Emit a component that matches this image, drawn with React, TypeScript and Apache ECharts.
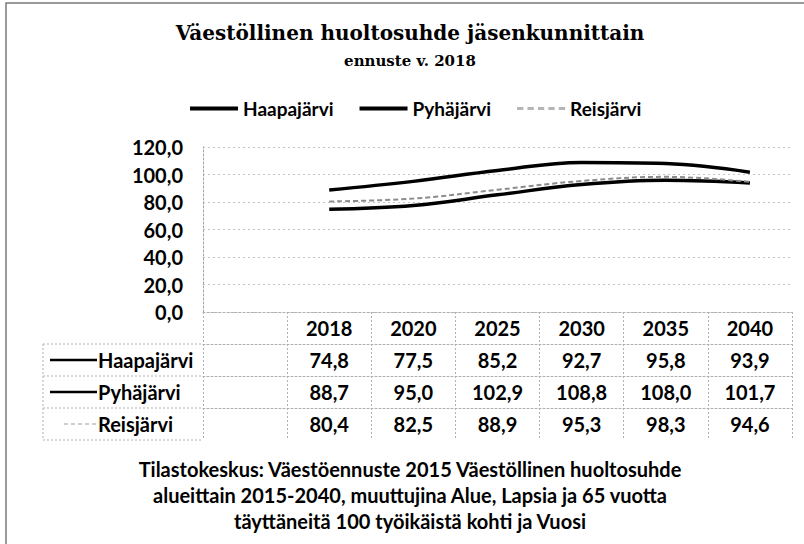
import React, { useEffect, useRef } from "react";
import * as echarts from "echarts";

const titleText = "Väestöllinen huoltosuhde jäsenkunnittain";
const subtitleText = "ennuste v. 2018";
const years = ["2018", "2020", "2025", "2030", "2035", "2040"];
const seriesNames = ["Haapajärvi", "Pyhäjärvi", "Reisjärvi"];
const haapajarvi = [74.8, 77.5, 85.2, 92.7, 95.8, 93.9];
const pyhajarvi = [88.7, 95.0, 102.9, 108.8, 108.0, 101.7];
const reisjarvi = [80.4, 82.5, 88.9, 95.3, 98.3, 94.6];
const yMin = 0;
const yMax = 120;
const yStep = 20;
const sourceLines = [
  "Tilastokeskus: Väestöennuste 2015 Väestöllinen huoltosuhde",
  "alueittain 2015-2040, muuttujina Alue, Lapsia ja 65 vuotta",
  "täyttäneitä 100 työikäistä kohti ja Vuosi",
];

const seriesValues = [haapajarvi, pyhajarvi, reisjarvi];
const lineStyles = [
  { color: "#000000", width: 3.5, type: "solid" as any },
  { color: "#000000", width: 3.5, type: "solid" as any },
  { color: "#8c8c8c", width: 2, type: [5, 3] as any },
];

const FONT = "Lato";
const CENTER_X = 410;
const GRID_LEFT = 203;
const GRID_RIGHT = 792;
const AXIS_Y = 312;
const ROW_H = 32;
const KEY_LEFT = 43;
const W = 804;
const H = 544;

const fmt = (v: number) => v.toFixed(1).replace(".", ",");
const categories = ["", ...years];
const dotted = { color: "#b0b0b0", width: 1, type: [2, 2] as any };

export default function App() {
  const ref = useRef<HTMLDivElement>(null);
  useEffect(() => {
    if (!ref.current) return;
    const chart = echarts.init(ref.current, undefined, { renderer: "svg" });

    const labelStyle = {
      interval: 0,
      margin: 6,
      color: "#000",
      fontFamily: FONT,
      fontWeight: "bold",
      fontSize: 20,
    };

    const rowAxes = seriesValues.map((vals, i) => ({
      type: "category",
      gridIndex: 0,
      position: "bottom",
      offset: ROW_H * (i + 1),
      data: ["", ...vals.map(fmt)],
      boundaryGap: true,
      axisLine: { show: true, lineStyle: dotted },
      axisTick: { show: false },
      axisLabel: labelStyle,
      splitLine: { show: false },
    }));

    const tableGraphics: any[] = [];
    for (let i = 1; i <= 4; i++) {
      const y = AXIS_Y + ROW_H * i;
      tableGraphics.push({
        type: "line",
        shape: { x1: KEY_LEFT, y1: y, x2: GRID_LEFT, y2: y },
        style: { stroke: dotted.color, lineWidth: 1, lineDash: [2, 2] },
      });
    }
    tableGraphics.push({
      type: "line",
      shape: { x1: KEY_LEFT, y1: AXIS_Y + ROW_H, x2: KEY_LEFT, y2: AXIS_Y + ROW_H * 4 },
      style: { stroke: dotted.color, lineWidth: 1, lineDash: [2, 2] },
    });
    seriesNames.forEach((name, i) => {
      const cy = AXIS_Y + ROW_H * (i + 1) + ROW_H / 2;
      tableGraphics.push({
        type: "line",
        shape: { x1: i === 2 ? 64 : 50, y1: cy, x2: 97, y2: cy },
        style: {
          stroke: i === 2 ? "#bdbdbd" : "#000",
          lineWidth: i === 2 ? 1.5 : 2.5,
          lineDash: i === 2 ? [4, 3] : null,
        },
      });
      tableGraphics.push({
        type: "text",
        x: 98,
        y: cy,
        style: {
          text: name,
          fill: "#000",
          font: `bold 20px ${FONT}`,
          textAlign: "left",
          textVerticalAlign: "middle",
        },
      });
    });

    const legendIcons = [
      "rect",
      "rect",
      "path://M0,0h6v3h-6z M10,0h6v3h-6z M20,0h6v3h-6z M30,0h6v3h-6z M40,0h6v3h-6z",
    ];
    const legendColors = ["#000000", "#000000", "#b5b5b5"];

    chart.setOption({
      animation: false,
      backgroundColor: "#ffffff",
      legend: {
        data: seriesNames.map((name, i) => ({
          name,
          icon: legendIcons[i],
          itemStyle: { color: legendColors[i], borderWidth: 0 },
        })),
        top: 94,
        left: 185,
        itemWidth: 48,
        itemHeight: 4,
        itemGap: 26,
        textStyle: {
          fontFamily: FONT,
          fontWeight: "bold",
          fontSize: 19,
          color: "#000",
        },
      },
      grid: {
        left: GRID_LEFT,
        right: W - GRID_RIGHT,
        top: 147,
        bottom: H - AXIS_Y,
        containLabel: false,
      },
      xAxis: [
        {
          type: "category",
          gridIndex: 0,
          position: "bottom",
          data: categories,
          boundaryGap: true,
          axisLine: { show: true, lineStyle: dotted },
          axisTick: {
            show: true,
            interval: 0,
            length: ROW_H * 4,
            lineStyle: dotted,
          },
          axisLabel: labelStyle,
          splitLine: { show: false },
        },
        ...rowAxes,
      ],
      yAxis: {
        type: "value",
        min: yMin,
        max: yMax,
        interval: yStep,
        axisLine: { show: true, lineStyle: { color: "#a0a0a0", width: 1, type: [2, 2] } },
        axisTick: { show: false },
        axisLabel: {
          margin: 20,
          color: "#000",
          fontFamily: FONT,
          fontWeight: "bold",
          fontSize: 20,
          formatter: (v: number) => fmt(v),
        },
        splitLine: { show: true, lineStyle: { color: "#c4c4c4", width: 1, type: [2, 3] } },
      },
      series: seriesNames.map((name, i) => ({
        name,
        type: "line",
        xAxisIndex: 0,
        data: [null, ...seriesValues[i]],
        smooth: 0.4,
        symbol: "none",
        connectNulls: false,
        lineStyle: lineStyles[i],
        itemStyle: { color: lineStyles[i].color },
      })),
      graphic: [
        {
          type: "rect",
          shape: { x: 6, y: 3, width: 900, height: 700 },
          style: { fill: "none", stroke: "#7a7a7a", lineWidth: 1.5 },
          silent: true,
        },
        {
          type: "text",
          x: CENTER_X,
          y: 33,
          style: {
            text: titleText,
            fill: "#000",
            font: `bold 20px "DejaVu Serif"`,
            textAlign: "center",
            textVerticalAlign: "middle",
          },
        },
        {
          type: "text",
          x: CENTER_X,
          y: 61,
          style: {
            text: subtitleText,
            fill: "#000",
            font: `bold 15px "DejaVu Serif"`,
            textAlign: "center",
            textVerticalAlign: "middle",
          },
        },
        ...tableGraphics,
        {
          type: "text",
          x: CENTER_X,
          y: 456,
          style: {
            text: sourceLines.join("\n"),
            fill: "#000",
            font: `bold 20px ${FONT}`,
            textAlign: "center",
            lineHeight: 26,
          },
        },
      ],
    });
    return () => chart.dispose();
  }, []);
  return (
    <div
      ref={ref}
      style={{ position: "absolute", left: 0, top: 0, width: W, height: H }}
    />
  );
}
